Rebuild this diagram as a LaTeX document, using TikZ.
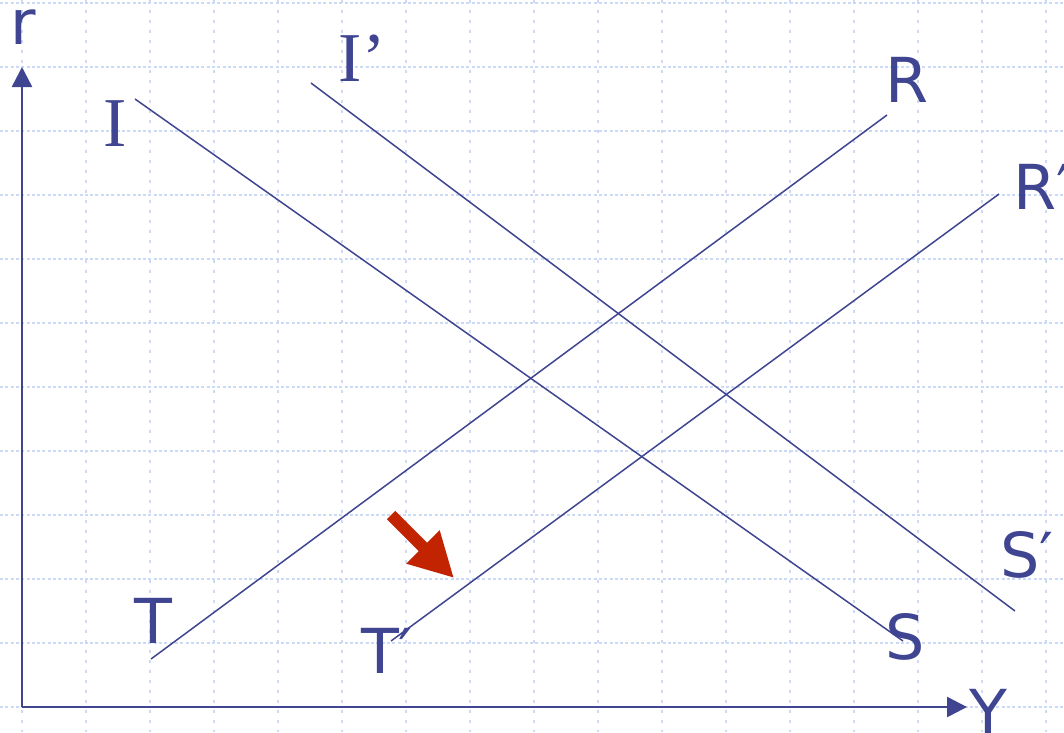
\documentclass[tikz,border=0pt]{standalone}
\usepackage{fontspec}
\setmainfont{DejaVu Sans}
\newfontfamily\serifface{Liberation Serif}
\usetikzlibrary{arrows.meta}
\definecolor{curve}{HTML}{3F4591}
\definecolor{gridblue}{HTML}{CCDAF8}
\definecolor{shiftred}{HTML}{C22300}

\begin{document}
\begin{tikzpicture}[x=1pt,y=-1pt,every node/.style={inner sep=0pt,text=curve,font=\fontsize{62}{70}\selectfont}]
    \useasboundingbox (0,0) rectangle (1064,732);
    % dotted grid
    \foreach \gx in {22,86,...,1046}
      \draw[gridblue,line width=2pt,dash pattern=on 3pt off 7pt] (\gx,0)--(\gx,732);
    \foreach \gy in {3,67,...,707}
      \draw[gridblue,line width=2pt,dash pattern=on 3pt off 2.3pt] (0,\gy)--(1064,\gy);
    % axes
    \coordinate (orig) at (22,707);
    \coordinate (rtop) at (22,67);
    \coordinate (yend) at (967,707);
    \draw[curve,line width=2.5pt,-{Triangle[length=20pt,width=20pt]}] (orig)--(rtop);
    \draw[curve,line width=2.5pt,-{Triangle[length=20pt,width=20pt]}] (orig)--(yend);
    \node (rlab) at (23,27) {r};
    \node (ylab) at (988,712) {Y};
    % IS curves
    \coordinate (i0) at (135,99);
    \coordinate (s0) at (903,641);
    \coordinate (i1) at (311,83);
    \coordinate (s1) at (1015,611);
    \draw[curve,line width=1.5pt] (i0)--(s0);
    \draw[curve,line width=1.5pt] (i1)--(s1);
    \node[font=\serifface\fontsize{70}{70}\selectfont] (ilab) at (115,124) {I};
    \node[font=\serifface\fontsize{70}{70}\selectfont] (iplab) at (362,58) {I’};
    \node (slab) at (905,637) {S};
    \node (splab) at (1027,555) {S′};
    % TR curves
    \coordinate (t0) at (151,659);
    \coordinate (r0) at (887,115);
    \coordinate (t1) at (391,641);
    \coordinate (r1) at (999,194);
    \draw[curve,line width=1.5pt] (t0)--(r0);
    \draw[curve,line width=1.5pt] (t1)--(r1);
    \node (tlab) at (153,621) {T};
    \node (tplab) at (387,651) {T′};
    \node (rtlab) at (907,80) {R};
    \node (rplab) at (1042,187) {R′};
    % shift
    \coordinate (mvfrom) at (391,515);
    \coordinate (mvto) at (454,578);
    \draw[shiftred,line width=12pt,-{Triangle[length=44pt,width=44pt]}] (mvfrom)--(mvto);
\end{tikzpicture}
\end{document}
